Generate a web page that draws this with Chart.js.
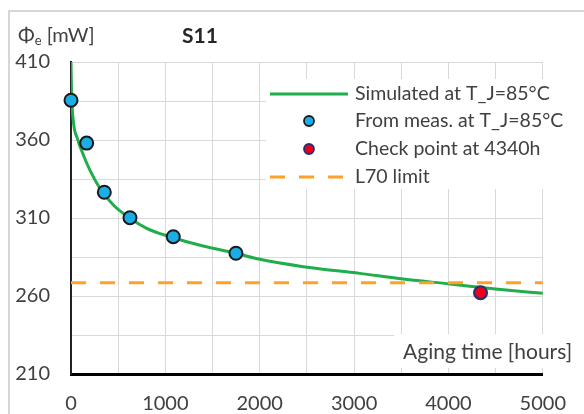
<!DOCTYPE html>
<html>
<head>
<meta charset="utf-8">
<script src="https://cdn.jsdelivr.net/npm/chart.js@4/dist/chart.umd.min.js"></script>
<style>
html,body{margin:0;padding:0;background:#fff;}
#wrap{width:584px;height:414px;position:relative;}
</style>
</head>
<body>
<div id="wrap"><canvas id="c" width="584" height="414"></canvas></div>
<script>
// ---- data ----
const simTimes  = [0, 5, 25, 67, 131, 208, 307, 449, 625, 802, 1049, 1400, 1748, 2000, 2461, 3061, 3500, 4015, 4500, 5000];
const simValues = [410, 392, 372, 361, 350.4, 339.7, 329, 318.3, 309.8, 303.4, 298, 292, 287.4, 283.5, 278.8, 274.5, 271, 267.7, 264.5, 261.7];
const measTimes  = [0, 166, 353, 625, 1084, 1748];
const measValues = [385.5, 358, 326.5, 310.2, 298, 287.4];
const checkTimes  = [4340];
const checkValues = [262.1];
const l70Times  = [0, 5000];
const l70Values = [268.5, 268.5];
const xTickValues = [0,500,1000,1500,2000,2500,3000,3500,4000,4500,5000];
const xTickLabels = [0,1000,2000,3000,4000,5000];
const yTickValues = [210,235,260,285,310,335,360,385,410];
const yTickLabels = [210,260,310,360,410];
const seriesNames = ['Simulated at T_J=85°C','From meas. at T_J=85°C','Check point at 4340h','L70 limit'];
const chartTitle = 'S11';
const yTitleMain = 'Φ', yTitleSub = 'e', yTitleUnit = ' [mW]';
const xTitle = 'Aging time [hours]';

const FONT = 'Lato, "Open Sans", "DejaVu Sans", sans-serif';
const TXT = '#404040';
const GREEN = '#1fae4b', BLUE = '#1aaee8', RED = '#e8001e', ORANGE = '#ffa126';

function pts(xs, ys){ return xs.map((x,i)=>({x:x, y:ys[i]})); }

const deco = {
  id:'deco',
  beforeDraw(chart){
    const ctx = chart.ctx;
    ctx.save();
    ctx.strokeStyle = '#d6d6d6'; ctx.lineWidth = 2;
    ctx.beginPath(); ctx.moveTo(9, 414); ctx.lineTo(9, 11); ctx.lineTo(584, 11); ctx.stroke();
    ctx.restore();
  },
  beforeDatasetsDraw(chart){
    const ctx = chart.ctx;
    ctx.save();
    // legend box
    ctx.fillStyle = '#fff';
    ctx.fillRect(266, 79, 318, 110);
    // x title box
    ctx.fillRect(394, 334, 190, 34);
    ctx.fillStyle = TXT;
    ctx.textBaseline = 'middle';
    ctx.textAlign = 'left';
    ctx.font = '21px ' + FONT;
    ctx.fillText(xTitle, 403, 352);
    // legend entries
    const ys = [94, 121, 149, 177];
    ctx.font = '19.5px ' + FONT;
    seriesNames.forEach((n,i)=>{ ctx.fillStyle = TXT; ctx.fillText(n, 355, ys[i]); });
    ctx.strokeStyle = GREEN; ctx.lineWidth = 3;
    ctx.beginPath(); ctx.moveTo(270, ys[0]); ctx.lineTo(348, ys[0]); ctx.stroke();
    ctx.lineWidth = 1.8;
    ctx.fillStyle = BLUE; ctx.strokeStyle = '#1a1a1a';
    ctx.beginPath(); ctx.arc(309, ys[1], 5, 0, Math.PI*2); ctx.fill(); ctx.stroke();
    ctx.fillStyle = RED; ctx.strokeStyle = '#24306e';
    ctx.beginPath(); ctx.arc(309, ys[2], 5, 0, Math.PI*2); ctx.fill(); ctx.stroke();
    ctx.strokeStyle = ORANGE; ctx.lineWidth = 3; ctx.setLineDash([15,14]);
    ctx.beginPath(); ctx.moveTo(270, ys[3]); ctx.lineTo(348, ys[3]); ctx.stroke();
    ctx.setLineDash([]);
    // titles
    ctx.fillStyle = '#262626';
    ctx.font = 'bold 21px ' + FONT;
    ctx.fillText(chartTitle, 182, 36);
    ctx.fillStyle = TXT;
    ctx.font = '20px ' + FONT;
    let x = 18;
    ctx.fillText(yTitleMain, x, 36); x += ctx.measureText(yTitleMain).width;
    ctx.font = '13px ' + FONT;
    ctx.fillText(yTitleSub, x, 41); x += ctx.measureText(yTitleSub).width;
    ctx.font = '20px ' + FONT;
    ctx.fillText(yTitleUnit, x, 36);
    ctx.restore();
  }
};

new Chart(document.getElementById('c'), {
  type:'scatter',
  data:{
    datasets:[
      {label:seriesNames[0], data:pts(simTimes, simValues), showLine:true, borderColor:GREEN, borderWidth:3, pointRadius:0, cubicInterpolationMode:'monotone', order:4},
      {label:seriesNames[3], data:pts(l70Times, l70Values), showLine:true, borderColor:ORANGE, borderWidth:3, borderDash:[15,14], pointRadius:0, order:3},
      {label:seriesNames[1], data:pts(measTimes, measValues), showLine:false, backgroundColor:BLUE, borderColor:'#1a1a1a', borderWidth:2, pointRadius:6.5, clip:false, order:2},
      {label:seriesNames[2], data:pts(checkTimes, checkValues), showLine:false, backgroundColor:RED, borderColor:'#24306e', borderWidth:2, pointRadius:6.5, clip:false, order:1}
    ]
  },
  options:{
    responsive:false, animation:false, devicePixelRatio:1,
    layout:{padding:{left:0, right:41, top:62, bottom:0}},
    plugins:{legend:{display:false}, tooltip:{enabled:false}, title:{display:false}},
    scales:{
      x:{type:'linear', min:0, max:5000,
        afterBuildTicks(s){ s.ticks = xTickValues.map(v=>({value:v})); },
        afterFit(s){ s.height = 40; },
        ticks:{padding:18, color:TXT, font:{family:FONT, size:20}, maxRotation:0, autoSkip:false,
          callback:(v)=> xTickLabels.includes(v) ? String(v) : ''},
        grid:{color:'#d9d9d9', lineWidth:1, drawTicks:false},
        border:{color:'#000', width:3}
      },
      y:{type:'linear', min:210, max:410,
        afterBuildTicks(s){ s.ticks = yTickValues.map(v=>({value:v})); },
        afterFit(s){ s.width = 71; },
        ticks:{padding:21, color:TXT, font:{family:FONT, size:20}, autoSkip:false,
          callback:(v)=> yTickLabels.includes(v) ? String(v) : ''},
        grid:{color:'#d9d9d9', lineWidth:1, drawTicks:false},
        border:{color:'#222', width:2}
      }
    }
  },
  plugins:[deco]
});
</script>
</body>
</html>
